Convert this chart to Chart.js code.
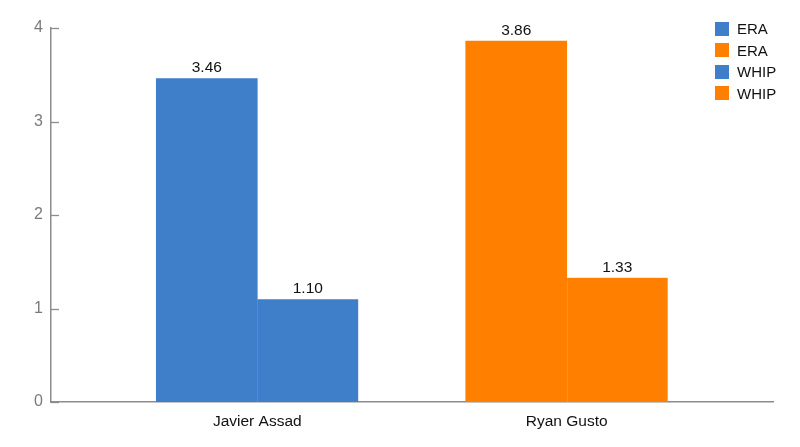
<!DOCTYPE html>
<html>
<head>
<meta charset="utf-8">
<script src="https://cdn.jsdelivr.net/npm/chart.js@4"></script>
<style>
  html, body { margin: 0; padding: 0; background: #fff; }
  #wrap { position: relative; width: 800px; height: 447px; }
  #legend { position: absolute; left: 715px; top: 18px; font-family: "Liberation Sans", Arial, sans-serif; font-size: 15px; color: #111; }
  .item { display: flex; align-items: center; height: 21.5px; }
  .sw { width: 14px; height: 14px; margin-right: 8px; }
</style>
</head>
<body>
<div id="wrap">
  <canvas id="c"></canvas>
  <div id="legend"></div>
</div>
<script>
const categories = ['Javier Assad', 'Ryan Gusto'];
const eraValues = [3.46, 3.86];
const whipValues = [1.10, 1.33];
const yTicks = [0, 1, 2, 3, 4];
const legendLabels = ['ERA', 'ERA', 'WHIP', 'WHIP'];

const BLUE = '#3f7ec8';
const ORANGE = '#ff7f00';
const playerColors = [BLUE, ORANGE];
const legendColors = [BLUE, ORANGE, BLUE, ORANGE];
const FONT = '"Liberation Sans", Arial, sans-serif';
const AXIS = '#8c8c8c';

const toPoints = vals => vals.map((v, i) => ({ x: i, y: v }));

const valueLabels = {
  id: 'valueLabels',
  afterDatasetsDraw(chart) {
    const ctx = chart.ctx;
    ctx.save();
    ctx.font = '15.5px ' + FONT;
    ctx.fillStyle = '#111';
    ctx.textAlign = 'center';
    ctx.textBaseline = 'alphabetic';
    chart.data.datasets.forEach((ds, di) => {
      chart.getDatasetMeta(di).data.forEach((el, i) => {
        ctx.fillText(ds.data[i].y.toFixed(2), el.x, el.y - 6);
      });
    });
    ctx.restore();
  }
};

const innerTicks = {
  id: 'innerTicks',
  afterDraw(chart) {
    const s = chart.scales.y;
    const ctx = chart.ctx;
    ctx.save();
    ctx.strokeStyle = AXIS;
    ctx.lineWidth = 1.3;
    s.ticks.forEach(t => {
      const y = Math.round(s.getPixelForValue(t.value)) + 0.5;
      ctx.beginPath();
      ctx.moveTo(chart.chartArea.left, y);
      ctx.lineTo(chart.chartArea.left + 8, y);
      ctx.stroke();
    });
    ctx.restore();
  }
};

new Chart(document.getElementById('c'), {
  type: 'bar',
  data: {
    datasets: [
      { label: 'ERA', data: toPoints(eraValues), backgroundColor: playerColors, borderWidth: 0 },
      { label: 'WHIP', data: toPoints(whipValues), backgroundColor: playerColors,
        borderWidth: { left: 1, top: 0, right: 0, bottom: 0 }, borderColor: ['#79a6dc', '#ffae5c'], borderSkipped: false }
    ]
  },
  options: {
    responsive: true,
    maintainAspectRatio: false,
    animation: false,
    layout: { padding: { top: 28, right: 27, left: 0, bottom: 0 } },
    barThickness: 101,
    plugins: { legend: { display: false }, tooltip: { enabled: false } },
    scales: {
      x: {
        type: 'linear',
        min: -2 / 3,
        max: 5 / 3,
        offset: false,
        afterBuildTicks: s => { s.ticks = categories.map((c, i) => ({ value: i })); },
        afterFit: s => { s.height = 45; },
        grid: { display: false, drawTicks: false },
        border: { display: true, color: AXIS, width: 1.5 },
        ticks: {
          autoSkip: false,
          maxRotation: 0,
          padding: 10,
          color: '#111',
          font: { family: FONT, size: 15.5 },
          callback: v => categories[v] ?? ''
        }
      },
      y: {
        min: 0,
        max: 4,
        afterBuildTicks: s => { s.ticks = yTicks.map(v => ({ value: v })); },
        afterFit: s => { s.width = 51; },
        grid: { display: false, drawTicks: false },
        border: { display: true, color: AXIS, width: 1.5 },
        ticks: {
          padding: 8,
          color: '#7a7a7a',
          font: { family: FONT, size: 16 }
        }
      }
    }
  },
  plugins: [valueLabels, innerTicks]
});

const lg = document.getElementById('legend');
legendLabels.forEach((t, i) => {
  const it = document.createElement('div');
  it.className = 'item';
  const sw = document.createElement('span');
  sw.className = 'sw';
  sw.style.background = legendColors[i];
  const tx = document.createElement('span');
  tx.textContent = t;
  it.appendChild(sw);
  it.appendChild(tx);
  lg.appendChild(it);
});
</script>
</body>
</html>
